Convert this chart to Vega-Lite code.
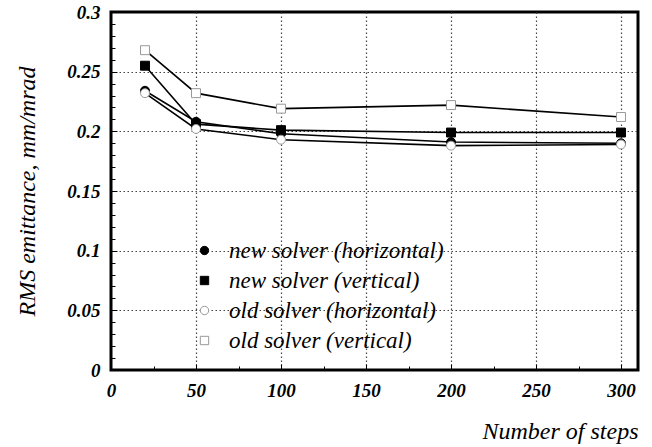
{
  "$schema": "https://vega.github.io/schema/vega-lite/v6.json",
  "width": 527,
  "height": 358,
  "autosize": "none",
  "padding": {"left": 111, "top": 12, "right": 14, "bottom": 77},
  "background": "white",
  "config": {
    "font": "Liberation Serif",
    "view": {"stroke": "black", "strokeWidth": 3}
  },
  "data": {
    "values": [
      {"steps": 20, "emittance": 0.234, "series": "new solver (horizontal)"},
      {"steps": 50, "emittance": 0.208, "series": "new solver (horizontal)"},
      {"steps": 100, "emittance": 0.198, "series": "new solver (horizontal)"},
      {"steps": 200, "emittance": 0.191, "series": "new solver (horizontal)"},
      {"steps": 300, "emittance": 0.190, "series": "new solver (horizontal)"},
      {"steps": 20, "emittance": 0.255, "series": "new solver (vertical)"},
      {"steps": 50, "emittance": 0.206, "series": "new solver (vertical)"},
      {"steps": 100, "emittance": 0.201, "series": "new solver (vertical)"},
      {"steps": 200, "emittance": 0.199, "series": "new solver (vertical)"},
      {"steps": 300, "emittance": 0.199, "series": "new solver (vertical)"},
      {"steps": 20, "emittance": 0.232, "series": "old solver (horizontal)"},
      {"steps": 50, "emittance": 0.202, "series": "old solver (horizontal)"},
      {"steps": 100, "emittance": 0.193, "series": "old solver (horizontal)"},
      {"steps": 200, "emittance": 0.188, "series": "old solver (horizontal)"},
      {"steps": 300, "emittance": 0.189, "series": "old solver (horizontal)"},
      {"steps": 20, "emittance": 0.268, "series": "old solver (vertical)"},
      {"steps": 50, "emittance": 0.232, "series": "old solver (vertical)"},
      {"steps": 100, "emittance": 0.219, "series": "old solver (vertical)"},
      {"steps": 200, "emittance": 0.222, "series": "old solver (vertical)"},
      {"steps": 300, "emittance": 0.212, "series": "old solver (vertical)"}
    ]
  },
  "encoding": {
    "x": {
      "field": "steps",
      "type": "quantitative",
      "scale": {"domain": [0, 310], "nice": false, "zero": false},
      "axis": {
        "title": "Number of steps",
        "titleFont": "Liberation Serif",
        "titleFontStyle": "italic",
        "titleFontWeight": "normal",
        "titleFontSize": 24,
        "titleColor": "black",
        "titleAlign": "right",
        "titleBaseline": "alphabetic",
        "titleX": 527,
        "titleY": 68,
        "values": [0, 25, 50, 75, 100, 125, 150, 175, 200, 225, 250, 275, 300],
        "labelExpr": "datum.value % 50 == 0 ? datum.label : ''",
        "labelFont": "Liberation Serif",
        "labelFontStyle": "italic",
        "labelFontWeight": "bold",
        "labelFontSize": 19,
        "labelColor": "black",
        "labelPadding": 17,
        "labelOverlap": false,
        "labelFlush": false,
        "labelBaseline": "top",
        "domain": false,
        "ticks": true,
        "tickColor": "black",
        "tickWidth": 1,
        "tickSize": {"condition": {"test": "datum.value % 50 == 0", "value": -6}, "value": -4},
        "grid": true,
        "gridColor": "#444444",
        "gridDash": [1.5, 2.5],
        "gridWidth": 1.2,
        "gridOpacity": {"condition": {"test": "datum.value % 50 == 0 && datum.value > 0", "value": 1}, "value": 0}
      }
    },
    "y": {
      "field": "emittance",
      "type": "quantitative",
      "scale": {"domain": [0, 0.3], "nice": false},
      "axis": {
        "title": "RMS emittance, mm/mrad",
        "titleFont": "Liberation Serif",
        "titleFontStyle": "italic",
        "titleFontWeight": "normal",
        "titleFontSize": 24,
        "titleColor": "black",
        "titlePadding": 27,
        "values": [0, 0.01, 0.02, 0.03, 0.04, 0.05, 0.06, 0.07, 0.08, 0.09, 0.1, 0.11, 0.12, 0.13, 0.14, 0.15, 0.16, 0.17, 0.18, 0.19, 0.2, 0.21, 0.22, 0.23, 0.24, 0.25, 0.26, 0.27, 0.28, 0.29, 0.3],
        "format": "~g",
        "labelExpr": "round(datum.value * 100) % 5 == 0 ? datum.label : ''",
        "labelFont": "Liberation Serif",
        "labelFontStyle": "italic",
        "labelFontWeight": "bold",
        "labelFontSize": 19,
        "labelColor": "black",
        "labelPadding": 17,
        "labelOverlap": false,
        "labelFlush": false,
        "domain": false,
        "ticks": true,
        "tickColor": "black",
        "tickWidth": 1,
        "tickSize": {"condition": {"test": "round(datum.value * 100) % 5 == 0", "value": -6}, "value": -4},
        "grid": true,
        "gridColor": "#444444",
        "gridDash": [1.5, 2.5],
        "gridWidth": 1.2,
        "gridOpacity": {"condition": {"test": "round(datum.value * 100) % 5 == 0 && datum.value > 0 && datum.value < 0.3", "value": 1}, "value": 0}
      }
    }
  },
  "layer": [
    {
      "mark": {"type": "line", "color": "black", "strokeWidth": 1.6},
      "encoding": {"detail": {"field": "series", "type": "nominal"}}
    },
    {
      "mark": {"type": "point", "filled": false, "strokeWidth": 1, "opacity": 1},
      "encoding": {
        "shape": {
          "field": "series",
          "type": "nominal",
          "scale": {
            "domain": ["new solver (horizontal)", "new solver (vertical)", "old solver (horizontal)", "old solver (vertical)"],
            "range": ["circle", "square", "circle", "square"]
          },
          "legend": {
            "title": null,
            "orient": "none",
            "legendX": 82,
            "legendY": 227,
            "padding": 0,
            "labelFont": "Liberation Serif",
            "labelFontStyle": "italic",
            "labelFontSize": 23,
            "labelColor": "black",
            "labelOffset": 13,
            "rowPadding": 6,
            "symbolSize": 70,
            "symbolStrokeWidth": 1,
            "labelLimit": 0
          }
        },
        "fill": {
          "field": "series",
          "type": "nominal",
          "scale": {
            "domain": ["new solver (horizontal)", "new solver (vertical)", "old solver (horizontal)", "old solver (vertical)"],
            "range": ["black", "black", "white", "white"]
          },
          "legend": null
        },
        "stroke": {
          "field": "series",
          "type": "nominal",
          "scale": {
            "domain": ["new solver (horizontal)", "new solver (vertical)", "old solver (horizontal)", "old solver (vertical)"],
            "range": ["black", "black", "#999999", "#999999"]
          },
          "legend": null
        },
        "size": {"value": 80}
      }
    }
  ]
}
